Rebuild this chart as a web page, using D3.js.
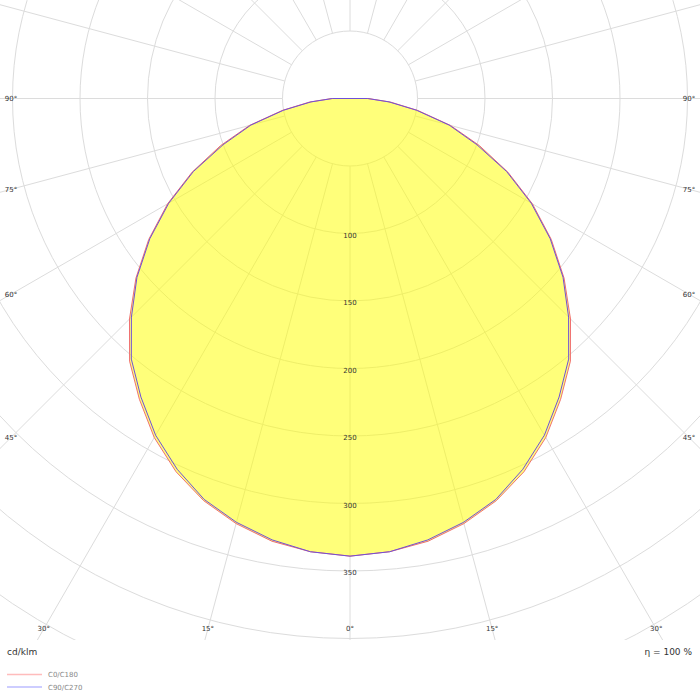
<!DOCTYPE html>
<html>
<head>
<meta charset="utf-8">
<script src="https://cdn.jsdelivr.net/npm/d3@7"></script>
<style>
  body { margin: 0; background: #fff; }
  text { font-family: "DejaVu Sans", Verdana, sans-serif; }
</style>
</head>
<body>
<svg id="chart" width="700" height="700"></svg>
<script>
// gamma angles (degrees from nadir), intensities in cd/klm
const gammaAngles = [0, 5, 10, 15, 20, 25, 30, 35, 40, 45, 50, 55, 60, 65, 70, 75, 80, 85, 90];
const c0c180  = [339, 337, 333, 326, 317, 305, 290, 272, 254, 231, 207, 182, 156, 129, 102, 77, 51, 30, 13.5];
const c90c270 = [339, 337, 332, 325, 316, 303, 288, 270, 252, 229, 206, 181, 155, 128, 100, 76, 50, 29, 13];
const ringValues = [50, 100, 150, 200, 250, 300, 350, 400, 450, 500, 550, 600];
const ringLabels = [100, 150, 200, 250, 300, 350];
const spokeAngles = d3.range(0, 360, 15);
const angleLabels = [0, 15, 30, 45, 60, 75, 90];
const seriesNames = ["C0/C180", "C90/C270"];
const unitLabel = "cd/klm";
const efficiencyLabel = "η = 100 %";

const W = 700, H = 700;
const cx = 350, cy = 98.5;
const clipBottom = 640;
const labelLeft = 11, labelRight = 689, labelBottom = 629;

let r = d3.scaleLinear().domain([0, 50]).range([0, 67.5]);

let svg = d3.select("#chart");
svg.append("rect").attr("width", W).attr("height", H).attr("fill", "#fff");

svg.append("defs").append("clipPath").attr("id", "plotclip")
  .append("rect").attr("x", 0).attr("y", 0).attr("width", W).attr("height", clipBottom);

let plot = svg.append("g").attr("clip-path", "url(#plotclip)");
let chart = plot.append("g").attr("transform", "translate(" + cx + "," + cy + ")");

/* grid */
chart.selectAll(".ring")
  .data(ringValues)
  .enter().append("circle")
    .attr("r", d => r(d))
    .attr("fill", "none")
    .attr("stroke", "#dcdcdc")
    .attr("stroke-width", 1);

chart.selectAll(".spoke")
  .data(spokeAngles)
  .enter().append("line")
    .attr("x1", d => r(50) * Math.sin(d * Math.PI / 180))
    .attr("y1", d => r(50) * Math.cos(d * Math.PI / 180))
    .attr("x2", d => r(800) * Math.sin(d * Math.PI / 180))
    .attr("y2", d => r(800) * Math.cos(d * Math.PI / 180))
    .attr("stroke", "#dcdcdc")
    .attr("stroke-width", 1);

/* curves: left half uses the 180/270 side, mirrored */
function fullCurve(values) {
  let pts = [];
  for (let i = gammaAngles.length - 1; i > 0; i--) pts.push([-gammaAngles[i], values[i]]);
  for (let i = 0; i < gammaAngles.length; i++) pts.push([gammaAngles[i], values[i]]);
  return pts;
}
// lineRadial measures from 12 o'clock, we measure from nadir
let radial = d3.lineRadial()
  .angle(d => Math.PI - d[0] * Math.PI / 180)
  .radius(d => r(d[1]))
  .curve(d3.curveLinearClosed);

chart.append("path")
  .attr("d", radial(fullCurve(c0c180)))
  .attr("fill", "#ffff00")
  .attr("fill-opacity", 0.52)
  .attr("stroke", "none");

chart.append("path")
  .attr("d", radial(fullCurve(c0c180)))
  .attr("fill", "none")
  .attr("stroke", "#f07070")
  .attr("stroke-width", 1);

chart.append("path")
  .attr("d", radial(fullCurve(c90c270)))
  .attr("fill", "none")
  .attr("stroke", "#7050d8")
  .attr("stroke-width", 1);

/* radial tick labels */
chart.selectAll(".rlabel")
  .data(ringLabels)
  .enter().append("text")
    .attr("x", 0)
    .attr("y", d => r(d) + 2.5)
    .attr("text-anchor", "middle")
    .attr("dominant-baseline", "middle")
    .attr("font-size", "7px")
    .attr("fill", "#333")
    .text(d => d);

/* angle labels where the spoke leaves the frame */
let angleLabelData = [];
angleLabels.forEach(function(a) {
  let sides = a === 0 ? [1] : [-1, 1];
  sides.forEach(function(s) {
    let t = a * Math.PI / 180;
    let x, y;
    let yAtSide = cy + (cx - labelLeft) / Math.tan(t);
    if (a === 90 || yAtSide <= labelBottom) {
      x = s < 0 ? labelLeft : labelRight;
      y = a === 90 ? cy : yAtSide;
    } else {
      x = cx + s * (labelBottom - cy) * Math.tan(t);
      y = labelBottom;
    }
    angleLabelData.push({a: a, x: x, y: y});
  });
});

svg.selectAll(".alabel")
  .data(angleLabelData)
  .enter().append("text")
    .attr("x", d => d.x)
    .attr("y", d => d.y + 0.5)
    .attr("text-anchor", "middle")
    .attr("dominant-baseline", "middle")
    .attr("font-size", "7px")
    .attr("fill", "#333")
    .text(d => d.a + "°");

/* footer */
svg.append("text").text(unitLabel)
  .attr("x", 7).attr("y", 655)
  .attr("font-size", "9px").attr("fill", "#333");

svg.append("text").text(efficiencyLabel)
  .attr("x", 692).attr("y", 655)
  .attr("text-anchor", "end")
  .attr("font-size", "9px").attr("fill", "#333");

let legendColors = ["#ffbcbc", "#bcbcff"];
let legend = svg.selectAll(".legend")
  .data(seriesNames)
  .enter().append("g")
    .attr("transform", (d, i) => "translate(0," + (674.5 + i * 12.5) + ")");
legend.append("line")
  .attr("x1", 7).attr("x2", 42).attr("y1", 0).attr("y2", 0)
  .attr("stroke", (d, i) => legendColors[i])
  .attr("stroke-width", 1.5);
legend.append("text").text(d => d)
  .attr("x", 48).attr("y", 2.5)
  .attr("font-size", "7px").attr("fill", "#888");
</script>
</body>
</html>
